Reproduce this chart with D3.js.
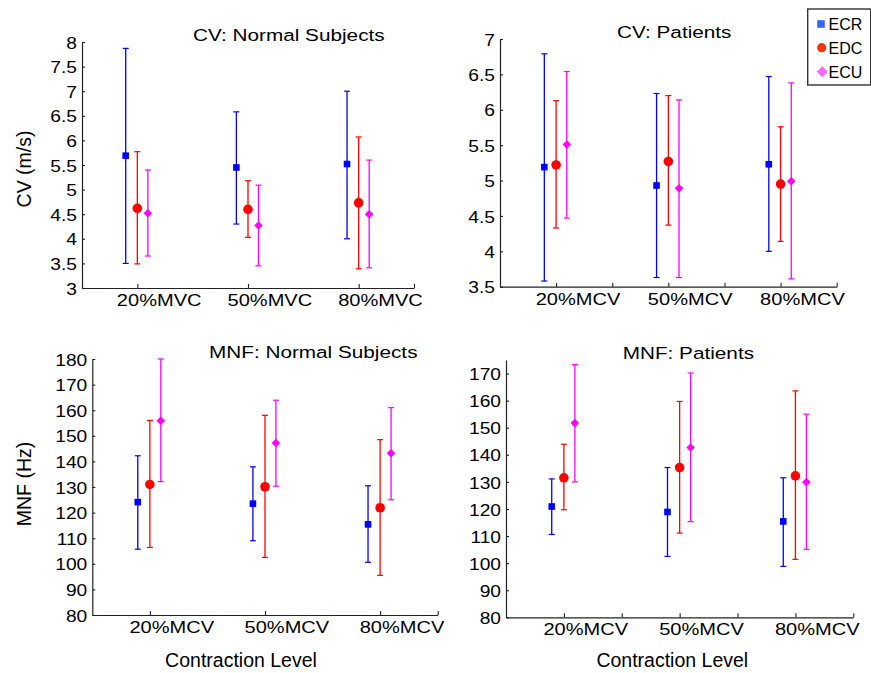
<!DOCTYPE html>
<html><head><meta charset="utf-8">
<script src="https://cdn.jsdelivr.net/npm/d3@7"></script>
<style>
html,body{margin:0;padding:0;background:#fff;}
svg{display:block;font-family:"Liberation Sans",Arial,sans-serif;}
</style></head>
<body>
<svg id="chart" width="871" height="673"></svg>
<script>
// ---- data: [mean, lower, upper] per contraction level ----
const seriesNames = ["ECR", "EDC", "ECU"];
const catsMVC = ["20%MVC", "50%MVC", "80%MVC"];
const catsMCV = ["20%MCV", "50%MCV", "80%MCV"];

const cvNormalECR = [[5.69, 3.50, 7.87], [5.45, 4.30, 6.58], [5.52, 4.00, 7.00]];
const cvNormalEDC = [[4.62, 3.49, 5.77], [4.60, 4.03, 5.18], [4.73, 3.39, 6.07]];
const cvNormalECU = [[4.52, 3.65, 5.40], [4.27, 3.45, 5.09], [4.50, 3.41, 5.60]];

const cvPatientECR = [[5.19, 3.58, 6.79], [4.93, 3.63, 6.23], [5.23, 4.00, 6.47]];
const cvPatientEDC = [[5.22, 4.33, 6.13], [5.27, 4.37, 6.20], [4.95, 4.14, 5.76]];
const cvPatientECU = [[5.51, 4.47, 6.54], [4.89, 3.63, 6.14], [4.99, 3.61, 6.38]];

const mnfNormalECR = [[124.1, 105.7, 142.2], [123.5, 109.0, 137.9], [115.4, 100.6, 130.5]];
const mnfNormalEDC = [[131.0, 106.4, 156.0], [130.1, 102.5, 158.0], [121.9, 95.5, 148.5]];
const mnfNormalECU = [[155.9, 132.1, 180.0], [147.2, 130.3, 163.9], [143.2, 125.0, 161.0]];

const mnfPatientECR = [[120.9, 110.6, 131.1], [118.9, 102.5, 135.3], [115.4, 98.8, 131.5]];
const mnfPatientEDC = [[131.5, 119.7, 143.9], [135.3, 111.1, 159.7], [132.2, 101.4, 163.6]];
const mnfPatientECU = [[151.7, 130.0, 173.3], [142.7, 115.3, 170.2], [129.9, 105.1, 155.0]];

// tick labels
const cvNormalTicks = [3, 3.5, 4, 4.5, 5, 5.5, 6, 6.5, 7, 7.5, 8];
const cvPatientTicks = [3.5, 4, 4.5, 5, 5.5, 6, 6.5, 7];
const mnfNormalTicks = [80, 90, 100, 110, 120, 130, 140, 150, 160, 170, 180];
const mnfPatientTicks = [80, 90, 100, 110, 120, 130, 140, 150, 160, 170];

// ---- styles / layout ----
const colors = {ECR: "#0000ff", EDC: "#ff0000", ECU: "#ff00ff"};
const legendColors = {ECR: "#3366ff", EDC: "#ff3300", ECU: "#ff66ff"};
const offsets = {ECR: -0.105, EDC: 0, ECU: 0.095};

const panels = [
  {title: "CV: Normal Subjects", cats: catsMVC, ticks: cvNormalTicks, ydom: [3, 8],
   data: [cvNormalECR, cvNormalEDC, cvNormalECU], box: [82, 414, 42, 288],
   xTicks: [1, 2, 3, 3.5], titleX: 193, ylabel: "CV (m/s)", ylabelPos: [30.5, 169]},
  {title: "CV: Patients", cats: catsMCV, ticks: cvPatientTicks, ydom: [3.5, 7],
   data: [cvPatientECR, cvPatientEDC, cvPatientECU], box: [500, 836.7, 39, 286.7],
   xTicks: [1, 1.5, 2, 2.5, 3, 3.5], titleX: 617},
  {title: "MNF: Normal Subjects", cats: catsMCV, ticks: mnfNormalTicks, ydom: [80, 180],
   data: [mnfNormalECR, mnfNormalEDC, mnfNormalECU], box: [92.3, 437.7, 359, 615],
   xTicks: [1, 2, 3, 3.5], titleX: 209, ylabel: "MNF (Hz)", ylabelPos: [30.5, 484],
   xlabel: "Contraction Level", xlabelPos: [241, 666.5]},
  {title: "MNF: Patients", cats: catsMCV, ticks: mnfPatientTicks, ydom: [80, 175],
   data: [mnfPatientECR, mnfPatientEDC, mnfPatientECU], box: [506, 853.3, 360, 617.3],
   xTicks: [1, 1.5, 2, 2.5, 3, 3.5], titleX: 622.7,
   xlabel: "Contraction Level", xlabelPos: [672.3, 666.5]}
];

const svg = d3.select("#chart");
const axisColor = "#222";

function diamond(r) { return `M0,${-r}L${r},0L0,${r}L${-r},0Z`; }

panels.forEach(p => {
  const [L, R, T, B] = p.box;
  const x = d3.scaleLinear().domain([0.5, 3.5]).range([L, R]);
  const y = d3.scaleLinear().domain(p.ydom).range([B, T]);
  const g = svg.append("g");

  // y axis
  const sxY = 1.13;
  const ya = g.append("g").attr("transform", `translate(${L},0)`)
    .call(d3.axisLeft(y).tickValues(p.ticks).tickSize(-3).tickSizeOuter(0).tickPadding(5)
      .tickFormat(v => String(+v.toFixed(2))));
  ya.select(".domain").attr("stroke", axisColor).attr("stroke-width", 1.2);
  ya.selectAll(".tick line").attr("stroke", axisColor).attr("stroke-width", 1.1);
  ya.selectAll(".tick text")
    .attr("fill", "#000").attr("font-size", 17).attr("font-family", '"Liberation Sans",Arial,sans-serif')
    .attr("x", -5 / sxY).attr("dy", "0.36em")
    .attr("transform", `scale(${sxY},1)`);

  // x axis
  const sxX = 1.18;
  const xa = g.append("g").attr("transform", `translate(0,${B})`)
    .call(d3.axisBottom(x).tickValues(p.xTicks).tickSize(-4).tickSizeOuter(0)
      .tickFormat(v => Number.isInteger(v) ? p.cats[v - 1] : ""));
  xa.select(".domain").attr("stroke", axisColor).attr("stroke-width", 1.2);
  xa.selectAll(".tick line").attr("stroke", axisColor).attr("stroke-width", 1.1);
  xa.selectAll(".tick text")
    .attr("fill", "#000").attr("font-size", 17).attr("font-family", '"Liberation Sans",Arial,sans-serif')
    .attr("text-anchor", "start").attr("x", -21 / sxX).attr("y", 18).attr("dy", null)
    .attr("transform", `scale(${sxX},1)`);

  // title
  g.append("text").attr("transform", `translate(${p.titleX},${T - 1}) scale(1.22,1)`)
    .attr("font-size", 17).attr("fill", "#000").text(p.title);

  if (p.ylabel) {
    g.append("text").attr("transform", `translate(${p.ylabelPos[0]},${p.ylabelPos[1]}) rotate(-90)`)
      .attr("text-anchor", "middle").attr("font-size", 19.5).attr("fill", "#000").text(p.ylabel);
  }
  if (p.xlabel) {
    g.append("text").attr("x", p.xlabelPos[0]).attr("y", p.xlabelPos[1])
      .attr("text-anchor", "middle").attr("font-size", 19.5).attr("fill", "#000").text(p.xlabel);
  }

  // error bars + markers
  seriesNames.forEach((s, si) => {
    const vals = p.data[si];
    const sg = g.append("g");
    vals.forEach((d, ci) => {
      const cx = x(ci + 1 + offsets[s]);
      const [m, lo, hi] = d;
      sg.append("line").attr("x1", cx).attr("x2", cx).attr("y1", y(lo)).attr("y2", y(hi))
        .attr("stroke", colors[s]).attr("stroke-width", 1.3);
      [lo, hi].forEach(v => {
        sg.append("line").attr("x1", cx - 3).attr("x2", cx + 3).attr("y1", y(v)).attr("y2", y(v))
          .attr("stroke", colors[s]).attr("stroke-width", 1.2);
      });
      if (s === "ECR") {
        sg.append("rect").attr("x", cx - 3.3).attr("y", y(m) - 3.3).attr("width", 6.6).attr("height", 6.6)
          .attr("fill", colors[s]);
      } else if (s === "EDC") {
        sg.append("circle").attr("cx", cx).attr("cy", y(m)).attr("r", 4.8).attr("fill", colors[s]);
      } else {
        sg.append("path").attr("d", diamond(4.3)).attr("transform", `translate(${cx},${y(m)})`)
          .attr("fill", colors[s]);
      }
    });
  });
});

// legend
const lg = svg.append("g");
lg.append("rect").attr("x", 807.7).attr("y", 9).attr("width", 63).attr("height", 76)
  .attr("fill", "#fff").attr("stroke", "#333").attr("stroke-width", 1.4);
const legY = [24, 47.7, 71.7];
seriesNames.forEach((s, i) => {
  const cy = legY[i];
  if (s === "ECR") {
    lg.append("rect").attr("x", 821 - 3.8).attr("y", cy - 3.8).attr("width", 7.6).attr("height", 7.6)
      .attr("fill", legendColors[s]);
  } else if (s === "EDC") {
    lg.append("circle").attr("cx", 821.7).attr("cy", cy).attr("r", 4.6).attr("fill", legendColors[s]);
  } else {
    lg.append("path").attr("d", diamond(5.5)).attr("transform", `translate(822.3,${cy})`)
      .attr("fill", legendColors[s]);
  }
  lg.append("text").attr("x", 828.5).attr("y", cy + 6).attr("font-size", 16).attr("fill", "#000").text(s);
});
</script>
</body></html>
